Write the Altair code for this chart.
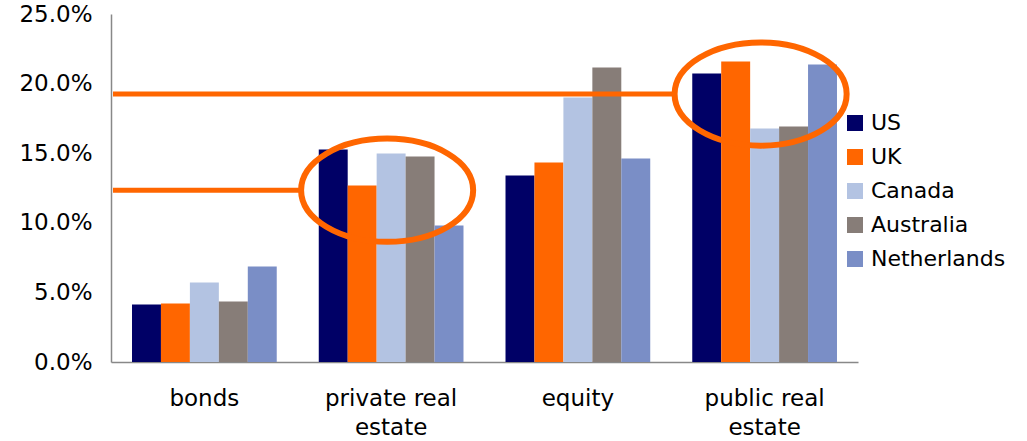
import altair as alt
import pandas as pd

categories = ["bonds", "private real estate", "equity", "public real estate"]
countries = ["US", "UK", "Canada", "Australia", "Netherlands"]
colors = ["#000066", "#FF6600", "#B3C3E2", "#877D78", "#7A8EC6"]

us = [0.0413, 0.1527, 0.1340, 0.2073]
uk = [0.0420, 0.1268, 0.1433, 0.2159]
canada = [0.0571, 0.1498, 0.1900, 0.1677]
australia = [0.0435, 0.1476, 0.2116, 0.1691]
netherlands = [0.0686, 0.0981, 0.1462, 0.2137]

annot_cats = ["private real estate", "public real estate"]
annot_values = [0.1234, 0.1925]

series = [us, uk, canada, australia, netherlands]
rows = []
for c, vals in zip(countries, series):
    for cat, v in zip(categories, vals):
        rows.append({"category": cat, "country": c, "value": v})
df = pd.DataFrame(rows)
adf = pd.DataFrame({"category": annot_cats, "value": annot_values})

FONT = "DejaVu Sans"

x_scale = alt.Scale(domain=categories, paddingInner=0.225, paddingOuter=0.1125)
y_scale = alt.Scale(domain=[0, 0.25])

bars = alt.Chart(df).mark_bar(strokeWidth=0).encode(
    x=alt.X("category:N", sort=categories, scale=x_scale, title=None,
            axis=alt.Axis(labelAngle=0, ticks=False, domainColor="#888888", domainWidth=1.5,
                          labelFont=FONT, labelFontSize=23, labelColor="#000000",
                          labelPadding=25, labelLineHeight=29,
                          labelExpr="indexof(datum.label, ' real ') >= 0 ? [replace(datum.label, ' estate', ''), 'estate'] : datum.label")),
    xOffset=alt.XOffset("country:N", sort=countries, scale=alt.Scale(domain=countries, paddingInner=0, paddingOuter=0)),
    y=alt.Y("value:Q", scale=y_scale, title=None,
            axis=alt.Axis(values=[0, 0.05, 0.10, 0.15, 0.20, 0.25], format=".1%", ticks=False, grid=False,
                          domainColor="#888888", domainWidth=1.5,
                          labelFont=FONT, labelFontSize=23, labelColor="#000000", labelPadding=19)),
    color=alt.Color("country:N", sort=countries, scale=alt.Scale(domain=countries, range=colors),
                    legend=alt.Legend(title=None, orient="none", legendX=733, legendY=98,
                                      symbolType="square", symbolSize=256, symbolStrokeWidth=0,
                                      labelFont=FONT, labelFontSize=22, labelColor="#000000",
                                      labelOffset=5, rowPadding=12, padding=0)),
)

lines = alt.Chart(adf).mark_rule(color="#FF6600", strokeWidth=5, xOffset=-91).encode(
    x=alt.X("category:N", sort=categories, scale=x_scale),
    x2=alt.value(2),
    y=alt.Y("value:Q", scale=y_scale),
)

ellipses = alt.Chart(adf).mark_point(
    shape="M -1 0 A 1 0.6 0 1 1 1 0 A 1 0.6 0 1 1 -1 0 Z",
    size=29600, filled=False, stroke="#FF6600", strokeWidth=6, opacity=1, xOffset=-4,
).encode(
    x=alt.X("category:N", sort=categories, scale=x_scale),
    y=alt.Y("value:Q", scale=y_scale),
)

chart = alt.layer(bars, lines, ellipses).properties(
    width=747, height=348,
    autosize=alt.AutoSizeParams(type="none"),
    padding={"left": 111, "top": 14, "right": 169, "bottom": 79},
    background="white",
).configure_view(stroke=None)

chart.save("out.html", embed_options={"renderer": "svg", "actions": False})
